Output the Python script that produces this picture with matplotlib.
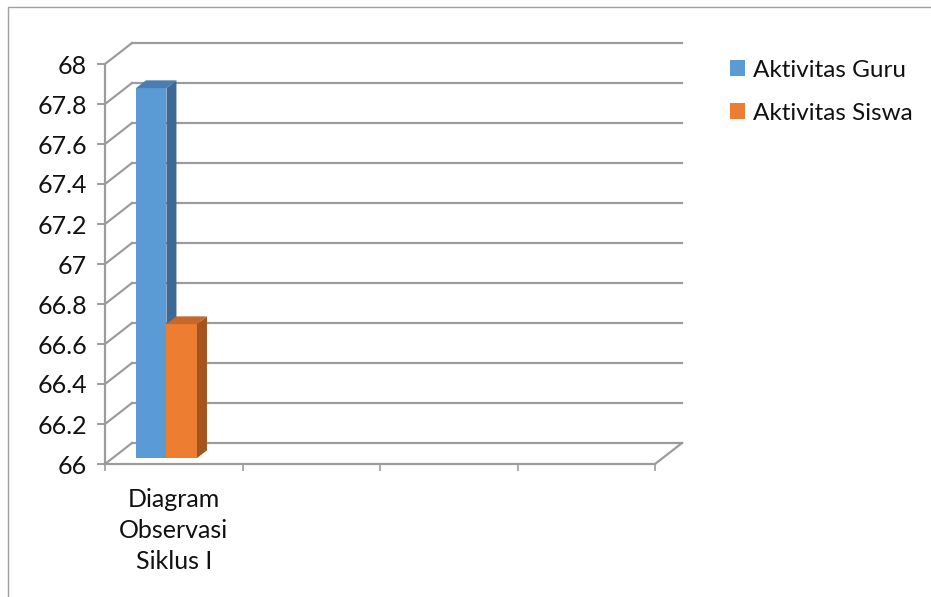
import matplotlib.pyplot as plt
from matplotlib.patches import Polygon, Patch, Rectangle

# data
categories = ["Diagram\nObservasi\nSiklus I", "", "", ""]
series_names = ["Aktivitas Guru", "Aktivitas Siswa"]
series_values = [67.85, 66.67]
y_ticks = [66, 66.2, 66.4, 66.6, 66.8, 67, 67.2, 67.4, 67.6, 67.8, 68]
y_tick_labels = ["66", "66.2", "66.4", "66.6", "66.8", "67", "67.2", "67.4", "67.6", "67.8", "68"]

front_colors = ["#5B9BD5", "#ED7D31"]
top_colors = ["#4A7DB0", "#C4692B"]
side_colors = ["#3C6A94", "#A3541F"]

W, H = 931, 597
fig = plt.figure(figsize=(W / 100, H / 100), dpi=100)
plt.rcParams["font.family"] = ["Lato", "DejaVu Sans"]

# plot area in pixels: front plane spans x 105..655, y 464..64
ax = fig.add_axes([105 / W, (H - 464) / H, 550 / W, 400 / H])
ymin, ymax = 66, 68
ax.set_xlim(0, len(categories))
ax.set_ylim(ymin, ymax)

# depth offset of the back wall, in data units
DX = 27 / 137.5
DY = 21 / 200.0
grid_col = "#9C9C9C"


def proj(x, y, z):
    return x + DX * z, y + DY * z


# back wall gridlines and left-wall diagonals
for v in y_ticks:
    x0, y0 = proj(0, v, 1)
    x1, y1 = proj(len(categories), v, 1)
    ax.plot([0, x0], [v, y0], color=grid_col, lw=1.6, clip_on=False, zorder=1)
    ax.plot([x0, x1], [y0, y1], color=grid_col, lw=1.6, clip_on=False, zorder=1)

# floor
n = len(categories)
bx, by = proj(n, ymin, 1)
ax.plot([0, n], [ymin, ymin], color=grid_col, lw=1.6, clip_on=False, zorder=1)
ax.plot([n, bx], [ymin, by], color=grid_col, lw=1.6, clip_on=False, zorder=1)

# 3D bars for the first category
bar_left = 0.17
bar_w = 0.222
z0, z1 = 0.28, 0.65
for i, (val, name) in enumerate(zip(series_values, series_names)):
    xl = bar_left + i * bar_w
    xr = xl + bar_w
    front = [proj(xl, ymin, z0), proj(xr, ymin, z0), proj(xr, val, z0), proj(xl, val, z0)]
    top = [proj(xl, val, z0), proj(xr, val, z0), proj(xr, val, z1), proj(xl, val, z1)]
    side = [proj(xr, ymin, z0), proj(xr, ymin, z1), proj(xr, val, z1), proj(xr, val, z0)]
    ax.add_patch(Polygon(front, closed=True, facecolor=front_colors[i], edgecolor="none", zorder=3 + i, clip_on=False))
    ax.add_patch(Polygon(top, closed=True, facecolor=top_colors[i], edgecolor="none", zorder=3 + i, clip_on=False))
    ax.add_patch(Polygon(side, closed=True, facecolor=side_colors[i], edgecolor="none", zorder=3 + i, clip_on=False))

# axes styling
for s in ["top", "right", "bottom"]:
    ax.spines[s].set_visible(False)
ax.spines["left"].set_color(grid_col)
ax.spines["left"].set_linewidth(1.6)
ax.set_yticks(y_ticks)
ax.set_yticklabels(y_tick_labels)
ax.tick_params(axis="y", length=6, width=1.4, color=grid_col, pad=7, labelsize=18, labelcolor="#111111")

ax.set_xticks(range(n + 1))
ax.set_xticklabels([])
ax.tick_params(axis="x", length=5, width=1.2, color=grid_col)
ax.set_xticks([k + 0.5 for k in range(n)], minor=True)
ax.set_xticklabels(categories, minor=True, fontsize=18, color="#111111", linespacing=1.42)
ax.tick_params(axis="x", which="minor", length=0, pad=17)
ax.patch.set_visible(False)

handles = [Patch(facecolor=c, edgecolor="none") for c in front_colors]
fig.legend(handles, series_names, loc="upper left", bbox_to_anchor=(708 / W, 1 - 38 / H),
           frameon=False, fontsize=17.5, handlelength=0.64, handleheight=0.64,
           handletextpad=0.3, labelspacing=0.9, labelcolor="#111111")

# outer chart border
fig.add_artist(Rectangle((8 / W, -0.1), 1.2, 1 - 7 / H + 0.1, transform=fig.transFigure,
                         fill=False, edgecolor="#A0A0A0", lw=1.0))

fig.savefig("out.png", dpi=100)
